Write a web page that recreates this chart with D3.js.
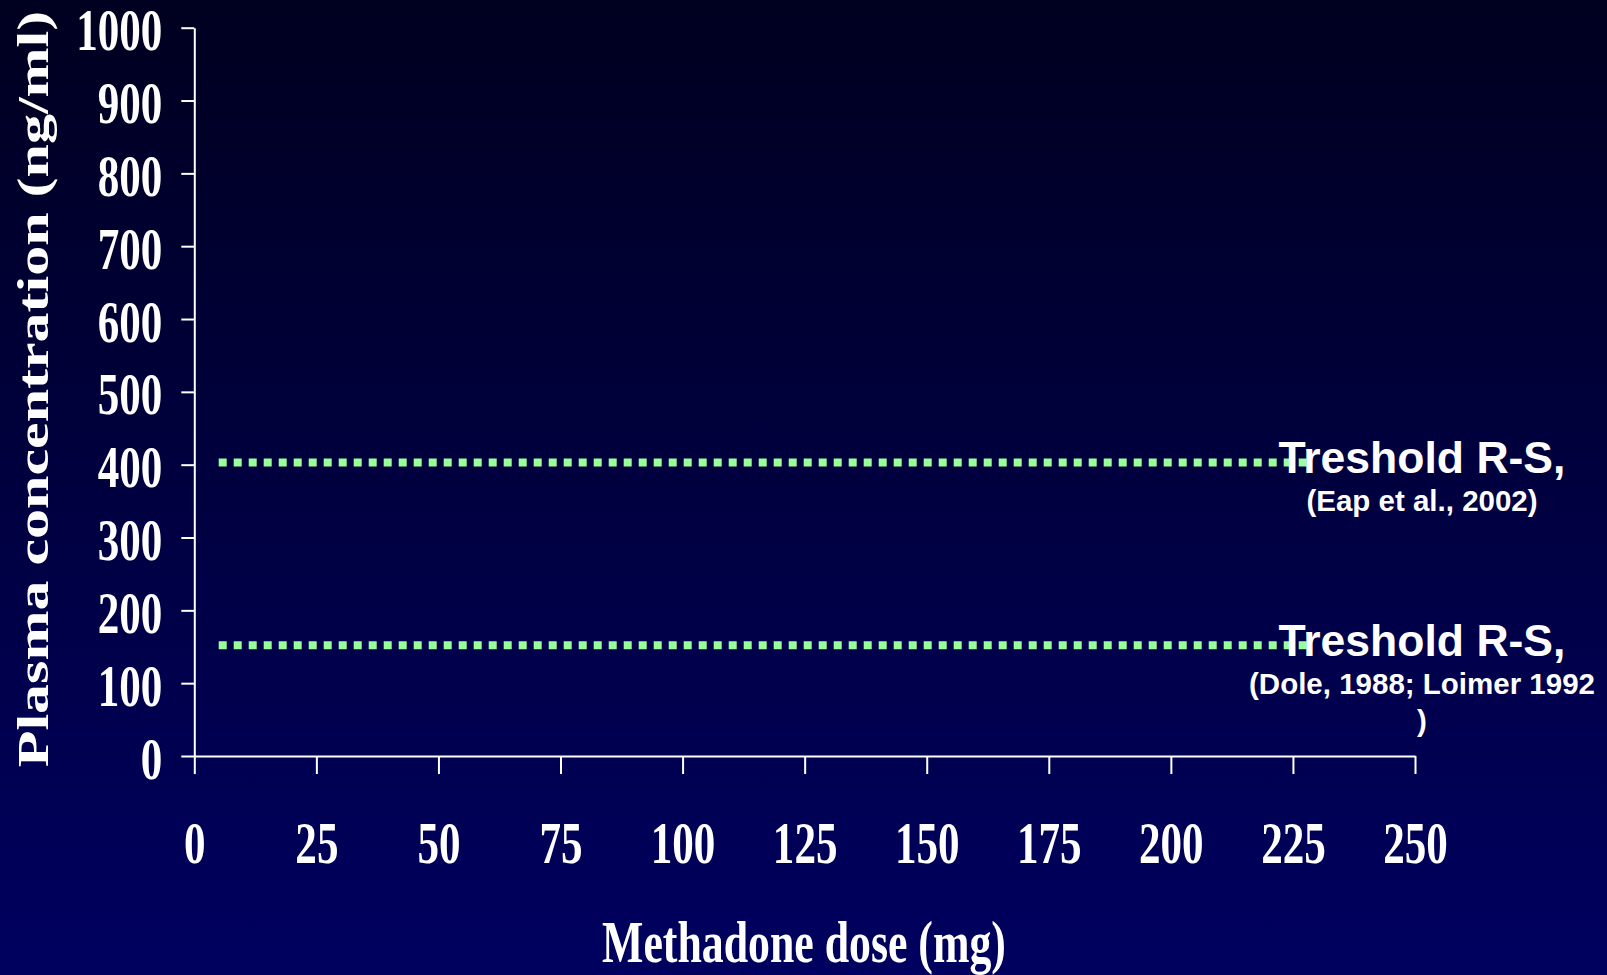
<!DOCTYPE html>
<html>
<head>
<meta charset="utf-8">
<script src="https://cdn.jsdelivr.net/npm/d3@7"></script>
<style>
  body { margin: 0; background: #000040; }
  svg { display: block; }
</style>
</head>
<body>
<div id="chart"></div>
<script>
// chart values
const xTicks = [0, 25, 50, 75, 100, 125, 150, 175, 200, 225, 250];
const yTicks = [0, 100, 200, 300, 400, 500, 600, 700, 800, 900, 1000];
const thresholdValues = [403, 152];
const thresholdSpan = [5, 228];
const thresholdTitles = ["Treshold R-S,", "Treshold R-S,"];
const thresholdSources = [["(Eap et al., 2002)"], ["(Dole, 1988; Loimer 1992", ")"]];
const xTitle = "Methadone dose (mg)";
const yTitle = "Plasma concentration (ng/ml)";

const width = 1607;
const height = 975;
const serif = "'Liberation Serif', 'Times New Roman', serif";
const sans = "'Liberation Sans', Arial, sans-serif";
const squeeze = 0.73; // the slide is stretched vertically

const svg = d3.select("#chart").append("svg").attr("width", width).attr("height", height);

const grad = svg.append("defs").append("linearGradient")
  .attr("id", "bg").attr("x1", 0).attr("y1", 0).attr("x2", 0).attr("y2", 1);
grad.append("stop").attr("offset", "0%").attr("stop-color", "#000020");
grad.append("stop").attr("offset", "100%").attr("stop-color", "#000060");
svg.append("rect").attr("width", width).attr("height", height).attr("fill", "url(#bg)");

const x = d3.scaleLinear().domain([0, 250]).range([194.3, 1415]);
const y = d3.scaleLinear().domain([0, 1000]).range([756, 27.7]);

// y axis
const yAxis = svg.append("g").attr("transform", `translate(${x(0)},0)`)
  .call(d3.axisLeft(y).tickValues(yTicks).tickSize(13).tickSizeOuter(0).tickFormat(d3.format("d")));
yAxis.selectAll("path, line").attr("stroke", "#fff").attr("stroke-width", 2);
yAxis.selectAll("text")
  .attr("x", null).attr("dy", null).attr("y", null)
  .attr("text-anchor", "end")
  .attr("transform", `translate(-32,22) scale(${squeeze},1)`)
  .attr("fill", "#fff")
  .style("font-family", serif).style("font-weight", "bold").style("font-size", "59px");

// x axis
const xAxis = svg.append("g").attr("transform", `translate(0,${y(0)})`)
  .call(d3.axisBottom(x).tickValues(xTicks).tickSize(18).tickSizeOuter(0).tickFormat(d3.format("d")));
xAxis.selectAll("path, line").attr("stroke", "#fff").attr("stroke-width", 2);
xAxis.selectAll("text")
  .attr("y", null).attr("dy", null)
  .attr("text-anchor", "middle")
  .attr("transform", `translate(0,107) scale(${squeeze},1)`)
  .attr("fill", "#fff")
  .style("font-family", serif).style("font-weight", "bold").style("font-size", "59px");

// axis titles
svg.append("text")
  .attr("transform", `translate(804,961.7) scale(${squeeze},1)`)
  .attr("text-anchor", "middle").attr("fill", "#fff")
  .style("font-family", serif).style("font-weight", "bold").style("font-size", "60px")
  .text(xTitle);

svg.append("text")
  .attr("transform", `translate(48,389) rotate(-90) scale(1,${squeeze})`)
  .attr("text-anchor", "middle").attr("fill", "#fff")
  .style("font-family", serif).style("font-weight", "bold").style("font-size", "60px")
  .text(yTitle);

// threshold lines
svg.selectAll("line.threshold").data(thresholdValues).join("line")
  .attr("class", "threshold")
  .attr("x1", x(thresholdSpan[0])).attr("x2", x(thresholdSpan[1]))
  .attr("y1", d => y(d)).attr("y2", d => y(d))
  .attr("stroke", "#99ff99").attr("stroke-width", 8)
  .attr("stroke-dasharray", "8 7");

// threshold labels
const labelX = 1422;
thresholdValues.forEach((v, i) => {
  const yy = y(v);
  svg.append("text")
    .attr("x", labelX).attr("y", yy + 11)
    .attr("text-anchor", "middle").attr("fill", "#fff")
    .style("font-family", sans).style("font-weight", "bold").style("font-size", "44.5px")
    .text(thresholdTitles[i]);
  thresholdSources[i].forEach((line, j) => {
    svg.append("text")
      .attr("x", labelX).attr("y", yy + 49 + j * 37)
      .attr("text-anchor", "middle").attr("fill", "#fff")
      .style("font-family", sans).style("font-weight", "bold").style("font-size", "29.5px")
      .text(line);
  });
});
</script>
</body>
</html>
